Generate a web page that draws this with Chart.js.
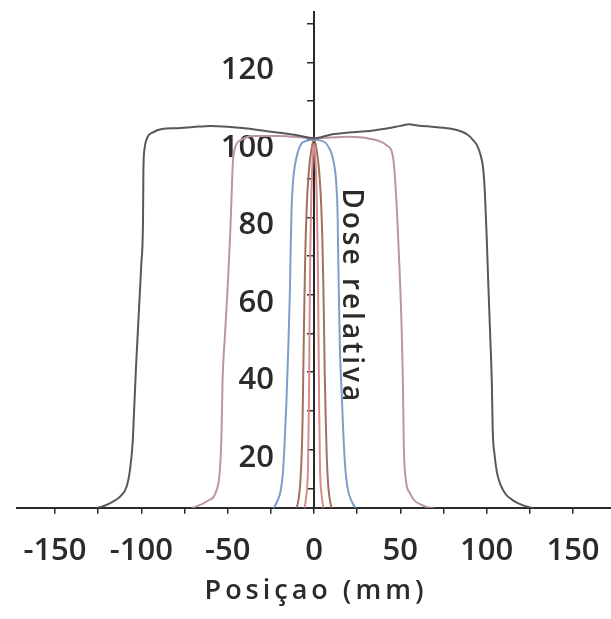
<!DOCTYPE html>
<html>
<head>
<meta charset="utf-8">
<title>Dose relativa x Posiçao</title>
<script src="https://cdn.jsdelivr.net/npm/chart.js@4.4.1/dist/chart.umd.min.js"></script>
<style>
  html, body { margin: 0; padding: 0; background: #ffffff; }
  #wrap { width: 611px; height: 619px; }
</style>
</head>
<body>
<div id="wrap"><canvas id="doseChart"></canvas></div>
<script>
"use strict";

/* ****************************************************************************
    DATA (position in mm, relative dose)
**************************************************************************** */
var xTitle = "Posiçao (mm)";
var yTitle = "Dose relativa";
var xLabelTicks = [-150, -100, -50, 0, 50, 100, 150];
var yLabelTicks = [20, 40, 60, 80, 100, 120];

// widest field (~200 mm)
var wideX = [-132, -126, -121, -116.5, -112, -108.5, -106.5, -105, -104, -103, -101.5, -100, -99, -98.8,
  -98.2, -96.8, -93, -88, -80, -70, -60, -50, -40, -30, -20, -10, 0, 10, 20, 30, 40, 50, 55, 60, 70, 80,
  85, 89, 92, 94.5, 96.5, 98, 99, 100, 101, 102, 103, 103.5, 104.5, 106, 108, 111, 115, 120, 127, 133];
var wideY = [3.5, 4.8, 5.6, 6.6, 8, 10.5, 15, 22, 32, 42, 55, 68, 80, 92,
  97.5, 100.3, 102, 102.8, 103, 103.3, 103.6, 103.4, 103, 102.4, 101.8, 101.2, 100.4, 101.4, 101.9, 102.2, 102.8, 103.6, 104, 103.7, 103.3, 102.8,
  102.2, 101.3, 100, 98.5, 96, 92.5, 86, 75, 62, 50, 37, 25, 19, 14, 11, 8.5, 7, 5.8, 4.8, 3.5];

// second field (~100 mm)
var midX = [-76, -70, -62, -56.3, -54.5, -53.5, -53, -51.5, -50, -48.5, -47.7, -47, -46, -42, -35, -20, 0,
  20, 32, 42, 45.8, 47.5, 49, 50.5, 51.5, 52, 53, 55.6, 63, 73, 79];
var midY = [3.5, 5, 6.7, 9.7, 14.7, 25, 37, 50, 62, 76, 86, 94, 97.5, 100, 101, 101, 100.4,
  100.8, 100.3, 98.6, 95.4, 86, 72, 55, 37, 21, 13, 8.7, 5.6, 4.5, 3.5];

// third field (~30 mm)
var blueX = [-28, -24, -21.5, -19.5, -18, -17, -16, -15, -14, -13.5, -13, -12.2, -11, -8, -4, 0,
  4, 8, 11.5, 13, 13.7, 14, 14.5, 15, 16, 17, 18, 19.5, 22, 25, 28];
var blueY = [3, 4.5, 6.5, 9, 14, 22, 32, 45, 60, 72, 82, 89, 93.5, 98.5, 99.8, 100,
  99.8, 98.5, 94, 88, 80, 70, 58, 46, 35, 24, 16, 10, 6.5, 4.5, 3];

// narrow field (~12 mm)
var brownX = [-12, -10.5, -9, -8, -7.2, -6.6, -6.2, -5.8, -5.3, -4.8, -4.2, -3.3, -2, 0,
  2, 3.3, 4.2, 4.8, 5.3, 5.8, 6.2, 6.8, 7.4, 8.2, 9.2, 10.5, 12];
var brownY = [3, 4.5, 7, 11, 18, 28, 40, 52, 65, 75, 83, 90, 96, 100,
  96, 90, 83, 75, 65, 52, 40, 28, 18, 11, 7, 4.5, 3];

// smallest field (~5 mm)
var redX = [-7, -6, -4.5, -3.5, -3, -2.6, -2.2, -1.6, -0.8, 0, 0.8, 1.6, 2.2, 2.6, 3, 3.5, 4.5, 6, 7];
var redY = [3, 4, 8, 15, 30, 50, 70, 85, 95, 99, 95, 85, 70, 50, 30, 15, 8, 4, 3];

/* ****************************************************************************
    STYLE
**************************************************************************** */
var textColor = "#2b2b2b";
var axisColor = "#2a2a2a";
var fontFamily = "'Open Sans', 'DejaVu Sans', sans-serif";

/**
 * Turn two arrays into {x, y} points.
 */
function toPoints(xs, ys) {
  return xs.map(function (x, i) {
    return { x: x, y: ys[i] };
  });
}

/**
 * Make a line dataset for one field profile.
 */
function profile(label, xs, ys, color) {
  return {
    label: label,
    data: toPoints(xs, ys),
    borderColor: color,
    borderWidth: 2,
    pointRadius: 0,
    fill: false,
    cubicInterpolationMode: "monotone",
  };
}

// the axis titles need letter spacing, so draw them here
var axisTitles = {
  id: "axisTitles",
  afterDraw: function (chart) {
    var ctx = chart.ctx;
    var area = chart.chartArea;
    ctx.save();
    ctx.fillStyle = textColor;
    ctx.textAlign = "left";
    ctx.textBaseline = "alphabetic";
    ctx.font = "600 28px " + fontFamily;
    ctx.letterSpacing = "3px";
    ctx.translate(chart.scales.x.getPixelForValue(0) + 29, chart.scales.y.getPixelForValue(87.5));
    ctx.rotate(Math.PI / 2);
    ctx.fillText(yTitle, 0, 0);
    ctx.restore();

    ctx.save();
    ctx.fillStyle = textColor;
    ctx.textAlign = "center";
    ctx.textBaseline = "middle";
    ctx.font = "600 27px " + fontFamily;
    ctx.letterSpacing = "4px";
    ctx.fillText(xTitle, (area.left + area.right) / 2 + 2, 591);
    ctx.restore();
  },
};

function noPadding(scale) {
  scale.paddingLeft = 0;
  scale.paddingRight = 0;
  scale.paddingTop = 0;
  scale.paddingBottom = 0;
}

var config = {
  type: "line",
  data: {
    datasets: [
      profile("200 mm", wideX, wideY, "#5a5660"),
      profile("100 mm", midX, midY, "#bb95a4"),
      profile("30 mm", blueX, blueY, "#7f9dca"),
      profile("12 mm", brownX, brownY, "#a3705f"),
      profile("5 mm", redX, redY, "#d98c8c"),
    ],
  },
  options: {
    responsive: true,
    maintainAspectRatio: false,
    animation: false,
    layout: { padding: { left: 17, right: 0, top: 12, bottom: 30 } },
    plugins: {
      legend: { display: false },
      tooltip: { enabled: false },
    },
    scales: {
      x: {
        type: "linear",
        position: "bottom",
        min: -172,
        max: 172,
        afterFit: noPadding,
        grid: { drawOnChartArea: false, drawTicks: true, tickLength: 6, color: axisColor, lineWidth: 1.5 },
        border: { display: true, color: axisColor, width: 2 },
        ticks: {
          stepSize: 25,
          includeBounds: false,
          autoSkip: false,
          maxRotation: 0,
          padding: 19,
          color: textColor,
          font: { family: fontFamily, size: 31, weight: "600" },
          callback: function (value) {
            return xLabelTicks.indexOf(value) >= 0 ? String(value) : "";
          },
        },
      },
      y: {
        type: "linear",
        position: "center",
        min: 5,
        max: 133,
        z: 1,
        afterFit: noPadding,
        grid: { drawOnChartArea: false, drawTicks: true, tickLength: 6, color: axisColor, lineWidth: 1.5 },
        border: { display: true, color: axisColor, width: 2 },
        ticks: {
          stepSize: 10,
          includeBounds: false,
          autoSkip: false,
          padding: 34,
          labelOffset: 8,
          color: textColor,
          font: { family: fontFamily, size: 31, weight: "600" },
          showLabelBackdrop: true,
          backdropColor: "#ffffff",
          backdropPadding: { top: -8, bottom: -6, left: 0, right: 0 },
          callback: function (value) {
            return yLabelTicks.indexOf(value) >= 0 ? String(value) : "";
          },
        },
      },
    },
  },
  plugins: [axisTitles],
};

new Chart(document.getElementById("doseChart"), config);
</script>
</body>
</html>
